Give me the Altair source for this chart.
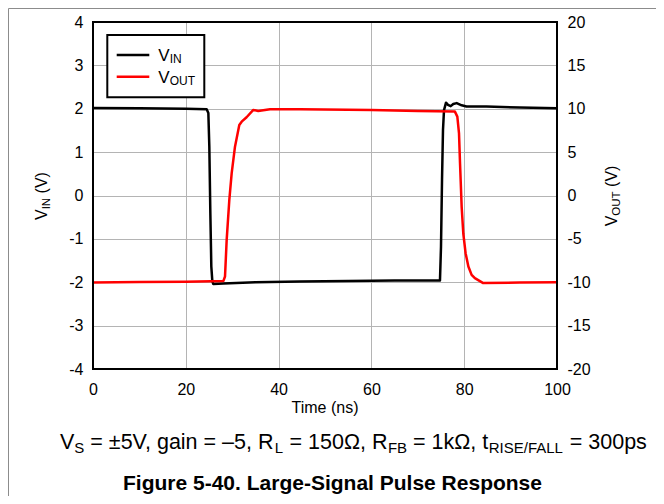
import altair as alt
import pandas as pd

# ---------------- data ----------------
vin_t = [0, 10, 20, 24.5, 24.86, 25.07, 25.29, 25.5, 25.72, 25.93, 28.1, 35, 44.6, 55, 65,
         74.78, 75.0, 75.22, 75.43, 75.65, 76.08, 76.51, 77.09, 77.65, 78.38, 79.45, 80.5,
         84.8, 92.0, 100]
vin_v = [2.02, 2.01, 2.0, 1.99, 1.90, 1.13, -0.41, -1.64, -1.98, -2.04, -2.03, -2.0, -1.98,
         -1.97, -1.96, -1.96, -1.18, 0.36, 1.51, 1.97, 2.14, 2.09, 2.06, 2.11, 2.13, 2.08,
         2.05, 2.05, 2.03, 2.01]

vout_t = [0, 10, 20, 28.09, 28.45, 28.81, 29.38, 29.89, 30.6, 31.53, 32.04, 33.1, 34.55,
          35.6, 38.15, 44.6, 60, 70, 78.0, 78.52, 78.88, 79.1, 79.45, 79.8, 80.3, 80.9,
          81.6, 82.3, 84.1, 92, 100]
vout_v = [-10.03, -9.98, -9.93, -9.87, -9.34, -5.12, -0.51, 2.57, 5.63, 8.13, 8.51, 9.02,
          9.86, 9.75, 9.94, 9.94, 9.85, 9.75, 9.67, 9.09, 7.17, 3.72, -1.28, -4.35, -6.65,
          -8.19, -9.15, -9.53, -10.1, -10.04, -10.0]

x_ticks = [0, 20, 40, 60, 80, 100]
vin_ticks = [-4, -3, -2, -1, 0, 1, 2, 3, 4]
vout_ticks = [-20, -15, -10, -5, 0, 5, 10, 15, 20]

caption_pieces = [("V", "m"), ("S", "s"), (" = ±5V, gain = –5, R", "m"), ("L", "s"),
                  (" = 150Ω, R", "m"), ("FB", "s"), (" = 1kΩ, t", "m"),
                  ("RISE/FALL", "s"), (" = 300ps", "m")]
figure_title = "Figure 5-40. Large-Signal Pulse Response"
x_title = "Time (ns)"

# ---------------- layout ----------------
W, H = 464, 347
FONT = "Liberation Sans"
GRID = "#b4b4b4"

# Arial / Liberation Sans advance widths (per 1000 em)
CW = {' ': 278, '=': 584, '±': 584, 'V': 667, ',': 278, 'g': 556, 'a': 556, 'i': 222,
      'n': 556, '–': 556, 'R': 722, 'Ω': 768, 'k': 500, 't': 278, 'p': 556, 's': 500,
      'S': 667, 'L': 556, 'F': 611, 'B': 667, 'I': 278, 'E': 667, '/': 278, 'A': 667,
      'N': 722, 'O': 778, 'U': 722, 'T': 611, '(': 333, ')': 333}
# small measured corrections (px) after each caption piece
CAP_ADJ = [0, 0, -1.5, 0.5, 0, 0, 0, 0, 0]


def tw(s, size):
    return sum(CW.get(c, 556) for c in s) * size / 1000.0


one = pd.DataFrame({"k": [0]})


def txt(s, x, y, size, bold=False, angle=0, align="left", color="black"):
    return alt.Chart(one).mark_text(
        text=s, fontSize=size, font=FONT, fontWeight="bold" if bold else "normal",
        angle=angle, align=align, baseline="alphabetic", color=color
    ).encode(x=alt.value(x), y=alt.value(y))


def pieces_h(pieces, x0, y0, msize, ssize, sdy, adj=None):
    out = []
    x = x0
    for i, (s, kind) in enumerate(pieces):
        size = msize if kind == "m" else ssize
        lead = len(s) - len(s.lstrip(" "))
        xs = x + tw(s[:lead], size)
        yy = y0 + (sdy if kind == "s" else 0)
        out.append(txt(s.strip(" "), xs, yy, size))
        x += tw(s, size) + (adj[i] if adj else 0)
    return out


def pieces_v(pieces, bx, y0, msize, ssize, sdx):
    out = []
    y = y0
    for s, kind in pieces:
        size = msize if kind == "m" else ssize
        lead = len(s) - len(s.lstrip(" "))
        ys = y - tw(s[:lead], size)
        xx = bx + (sdx if kind == "s" else 0)
        out.append(txt(s.strip(" "), xx, ys, size, angle=270))
        y -= tw(s, size)
    return out


df_in = pd.DataFrame({"t": vin_t, "v": vin_v})
df_out = pd.DataFrame({"t": vout_t, "v": vout_v})

xenc = alt.X("t:Q", scale=alt.Scale(domain=[0, 100], nice=False, zero=False),
             axis=alt.Axis(values=x_ticks, title=None, labelPadding=12, grid=True,
                           labelFlush=False, labelExpr="'' + datum.value"))

vin_line = alt.Chart(df_in).mark_line(color="black", strokeWidth=2.5, strokeJoin="round").encode(
    x=xenc,
    y=alt.Y("v:Q", scale=alt.Scale(domain=[-4, 4], nice=False, zero=False),
            axis=alt.Axis(values=vin_ticks, title=None, orient="left", labelPadding=10,
                          grid=True, labelFlush=False, labelExpr="'' + datum.value")),
)

vout_line = alt.Chart(df_out).mark_line(color="#ff0000", strokeWidth=2.5, strokeJoin="round").encode(
    x=xenc,
    y=alt.Y("v:Q", scale=alt.Scale(domain=[-20, 20], nice=False, zero=False),
            axis=alt.Axis(values=vout_ticks, title=None, orient="right", labelPadding=10,
                          grid=False, labelFlush=False, labelExpr="'' + datum.value")),
)

lines = alt.layer(vin_line, vout_line).resolve_scale(y="independent")

frame = alt.Chart(one).mark_rect(fill="white", fillOpacity=0, stroke="black", strokeWidth=2).encode(
    x=alt.value(0), x2=alt.value(W), y=alt.value(0), y2=alt.value(H))

# outer light frame of the figure
border_left = alt.Chart(one).mark_rule(color="#8c8c8c", strokeWidth=1).encode(
    x=alt.value(-84.5), y=alt.value(-13.5), y2=alt.value(490))
border_top = alt.Chart(one).mark_rule(color="#8c8c8c", strokeWidth=1).encode(
    x=alt.value(-84.5), x2=alt.value(570), y=alt.value(-13.5))

# legend
leg_box = alt.Chart(one).mark_rect(fill="white", stroke="black", strokeWidth=2).encode(
    x=alt.value(14.3), x2=alt.value(111.3), y=alt.value(13), y2=alt.value(75.3))
leg_in = alt.Chart(one).mark_rule(color="black", strokeWidth=2.5).encode(
    x=alt.value(23.7), x2=alt.value(56.3), y=alt.value(33))
leg_out = alt.Chart(one).mark_rule(color="#ff0000", strokeWidth=2.5).encode(
    x=alt.value(23.7), x2=alt.value(56.3), y=alt.value(54.7))
leg_txt = (pieces_h([("V", "m"), ("IN", "s")], 65.3, 38.7, 17, 12, 2.6)
           + pieces_h([("V", "m"), ("OUT", "s")], 65.3, 60.7, 17, 12, 2.6))

# axis titles
left_title = pieces_v([("V", "m"), ("IN", "s"), (" (V)", "m")], -45.7, 198, 16, 11.5, 3)
right_title = pieces_v([("V", "m"), ("OUT", "s"), (" (V)", "m")], 523.7, 204.3, 16, 11.5, 3)
xt = txt(x_title, W / 2, 390.7, 16, align="center")

# captions
cap = pieces_h(caption_pieces, -33, 427.3, 21.5, 15, 4, CAP_ADJ)
fig = txt(figure_title, 239.5, 467.7, 21, bold=True, align="center")

chart = alt.layer(
    lines, frame, border_left, border_top, leg_box, leg_in, leg_out,
    *leg_txt, *left_title, *right_title, xt, *cap, fig
).properties(
    width=W, height=H,
    autosize=alt.AutoSizeParams(type="none"),
    padding={"left": 85, "top": 14, "right": 99, "bottom": 127},
    background="white",
).configure_view(stroke=None).configure_axis(
    domain=False, ticks=False, tickSize=0, gridColor=GRID, gridWidth=1, gridOpacity=1,
    labelFont=FONT, labelFontSize=16, labelColor="black",
)

chart.save("out.html", embed_options={"renderer": "svg", "actions": False})
